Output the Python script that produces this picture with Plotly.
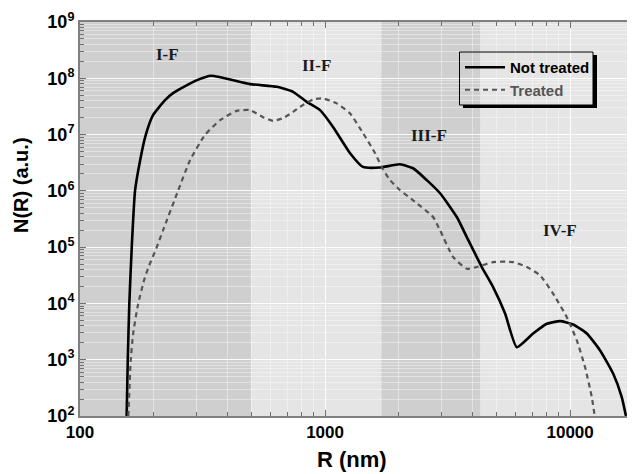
import math
import plotly.graph_objects as go

# ---------------- data ----------------
r_not_treated = [155, 156.6, 158.9, 162.6, 167.7, 176.0, 185.4, 198.6, 222.3, 239.7, 273.4, 300.4,
                 342.5, 494.2, 635.3, 740.3, 842, 954, 1078, 1265, 1429, 1677, 2023, 2287, 2601,
                 2947, 3449, 3788, 4362, 4850, 5428, 6059, 7063, 8031, 9104, 10285, 11700, 13256,
                 14980, 16255, 16900]
n_not_treated = [1.0e2, 9.3e2, 9.6e3, 9.9e4, 1.0e6, 3.5e6, 9.76e6, 2.21e7, 4.09e7, 5.45e7, 7.57e7,
                 9.29e7, 1.108e8, 7.88e7, 7.06e7, 5.75e7, 3.82e7, 2.72e7, 1.37e7, 4.67e6, 2.66e6,
                 2.60e6, 2.97e6, 2.52e6, 1.55e6, 9.06e5, 3.43e5, 1.51e5, 4.43e4, 1.95e4, 6.64e3,
                 1.67e3, 2.92e3, 4.35e3, 4.84e3, 4.23e3, 2.92e3, 1.46e3, 5.68e2, 2.15e2, 1.0e2]

r_treated = [157.5, 161.0, 164.6, 172.5, 182.5, 189.5, 205.6, 218.2, 251.2, 281.2, 323.7, 372.8,
             436.1, 494.2, 558.3, 613.5, 674.1, 740.3, 790.6, 893, 981, 1116, 1265, 1429, 1600,
             1703, 1842, 2023, 2287, 2759, 2947, 3331, 3788, 4161, 4850, 5852, 6658, 7545, 8523,
             9694, 10650, 11510, 12265, 12600]
n_treated = [1.0e2, 9.3e2, 2.81e3, 9.6e3, 2.57e4, 4.20e4, 9.9e4, 1.99e5, 1.0e6, 3.50e6, 9.89e6,
             1.80e7, 2.64e7, 2.72e7, 2.04e7, 1.75e7, 1.96e7, 2.53e7, 3.11e7, 4.21e7, 4.39e7,
             3.58e7, 2.37e7, 1.06e7, 4.67e6, 2.66e6, 1.55e6, 1.03e6, 6.8e5, 3.43e5, 1.99e5,
             6.67e4, 4.14e4, 4.43e4, 5.43e4, 5.43e4, 4.43e4, 3.15e4, 1.49e4, 5.70e3, 2.20e3,
             7.36e2, 2.15e2, 1.0e2]

region_edges = [100, 500, 1700, 4300, 20000]
region_labels = ["I-F", "II-F", "III-F", "IV-F"]

x_tick_vals = [100, 1000, 10000]
x_tick_text = ["100", "1000", "10000"]
y_tick_vals = [1e2, 1e3, 1e4, 1e5, 1e6, 1e7, 1e8, 1e9]
y_tick_text = ["10<sup>%d</sup>" % e for e in range(2, 10)]

# ---------------- styling / layout ----------------
PAGE_OFF = 8  # default body margin of the html page
W, H = 635 - PAGE_OFF, 474 - PAGE_OFF
ML, MR, MT, MB = 80 - PAGE_OFF, 0, 22 - PAGE_OFF, 58
PW, PH = W - ML - MR, H - MT - MB


def px_x(x):
    # x: pixel in screenshot coordinates -> paper fraction
    return (x - PAGE_OFF - ML) / PW


def px_y(y):
    return 1 - (y - PAGE_OFF - MT) / PH


region_fill = ["#cfcfcf", "#e5e5e5", "#cfcfcf", "#e5e5e5"]
label_x_px = [167, 316, 429, 560]
label_y_px = [54, 65, 136, 230]

fig = go.Figure()

fig.add_trace(go.Scatter(
    x=r_not_treated, y=n_not_treated, mode="lines", name="Not treated",
    line=dict(color="black", width=2.6, shape="spline", smoothing=0.5),
))
fig.add_trace(go.Scatter(
    x=r_treated, y=n_treated, mode="lines",
    name="<span style='color:#555555'>Treated</span>",
    line=dict(color="#555555", width=2.2, dash="5px,4px", shape="spline", smoothing=0.5),
))

shapes = []
for i in range(len(region_labels)):
    shapes.append(dict(
        type="rect", xref="x", yref="paper",
        x0=region_edges[i], x1=region_edges[i + 1],
        y0=0, y1=1, fillcolor=region_fill[i], line=dict(width=0), layer="below",
    ))

# legend box + shadow
shapes.append(dict(type="rect", xref="paper", yref="paper",
                   x0=px_x(593), x1=px_x(597), y0=px_y(108), y1=px_y(55),
                   fillcolor="black", line=dict(width=0), layer="above"))
shapes.append(dict(type="rect", xref="paper", yref="paper",
                   x0=px_x(463), x1=px_x(597), y0=px_y(108), y1=px_y(105),
                   fillcolor="black", line=dict(width=0), layer="above"))
shapes.append(dict(type="rect", xref="paper", yref="paper",
                   x0=px_x(459.5), x1=px_x(593), y0=px_y(105), y1=px_y(52),
                   fillcolor="rgba(0,0,0,0)", line=dict(color="black", width=1), layer="above"))

annotations = []
for i, lab in enumerate(region_labels):
    annotations.append(dict(
        text="<b>%s</b>" % lab, xref="paper", yref="paper",
        x=px_x(label_x_px[i]), y=px_y(label_y_px[i]),
        showarrow=False, xanchor="center", yanchor="middle",
        font=dict(family="Liberation Serif", size=17, color="#1a1a1a"),
    ))

annotations.append(dict(
    text="<b>N(R) (a.u.)</b>", xref="paper", yref="paper",
    x=px_x(21), y=px_y(185), textangle=-90, showarrow=False,
    xanchor="center", yanchor="middle",
    font=dict(family="Liberation Sans", size=20, color="black"),
))
annotations.append(dict(
    text="<b>R (nm)</b>", xref="paper", yref="paper",
    x=px_x(352), y=px_y(459), showarrow=False,
    xanchor="center", yanchor="middle",
    font=dict(family="Liberation Sans", size=22, color="black"),
))

axis_common = dict(
    type="log", showline=True, linecolor="#808080", linewidth=2, mirror="ticks",
    ticks="inside", ticklen=6, tickcolor="#707070", tickwidth=1,
    showgrid=True, gridcolor="rgba(255,255,255,0.85)", gridwidth=1,
    zeroline=False, automargin=False,
    minor=dict(ticks="inside", ticklen=4, tickcolor="#707070", dtick="D1",
               showgrid=True, gridcolor="rgba(255,255,255,0.4)", gridwidth=1),
)

fig.update_layout(
    width=W, height=H,
    margin=dict(l=ML, r=MR, t=MT, b=MB, autoexpand=False),
    paper_bgcolor="white", plot_bgcolor="#e5e5e5",
    showlegend=True,
    legend=dict(
        x=px_x(460), y=px_y(51), xanchor="left", yanchor="top",
        bgcolor="rgba(0,0,0,0)", borderwidth=0,
        font=dict(family="Liberation Sans", size=15, color="black", weight="bold"),
        tracegroupgap=2, itemwidth=40,
    ),
    shapes=shapes,
    annotations=annotations,
    xaxis=dict(
        axis_common, range=[2, math.log10(18400)],
        tickvals=x_tick_vals, ticktext=["<b>%s</b>" % t for t in x_tick_text],
        tickfont=dict(family="Liberation Sans", size=17, color="black"),
    ),
    yaxis=dict(
        axis_common, range=[2, 9],
        tickvals=y_tick_vals, ticktext=["<b>%s</b>" % t for t in y_tick_text],
        tickfont=dict(family="Liberation Sans", size=18, color="black"),
    ),
)

fig.write_html("out.html")
